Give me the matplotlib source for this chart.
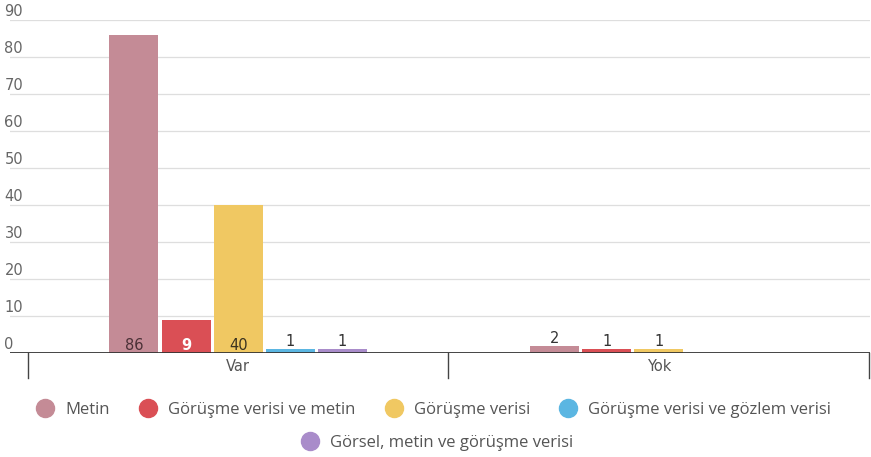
import numpy as np
import matplotlib
matplotlib.use("Agg")
import matplotlib.pyplot as plt
from matplotlib.lines import Line2D

# veriler
kategoriler = ["Var", "Yok"]
seriler = ["Metin", "Görüşme verisi ve metin", "Görüşme verisi",
           "Görüşme verisi ve gözlem verisi", "Görsel, metin ve görüşme verisi"]
metin = [86, 2]
gorusme_metin = [9, 1]
gorusme = [40, 1]
gorusme_gozlem = [1, 0]
gorsel_metin_gorusme = [1, 0]
degerler = [metin, gorusme_metin, gorusme, gorusme_gozlem, gorsel_metin_gorusme]
yticks = [0, 10, 20, 30, 40, 50, 60, 70, 80, 90]

renkler = ["#c48b96", "#da4f55", "#f0c862", "#5bb6e2", "#a98cca"]
etiket_renk = ["#4a3036", "#ffffff", "#3a3220", "#333333", "#333333"]

W, H = 871, 457
fig = plt.figure(figsize=(W / 100, H / 100), dpi=100)
plt.rcParams['font.family'] = ['Roboto', 'DejaVu Sans']
sayi_font = ["DejaVu Sans"]

# eksen: x 10..870 px, y 20..353 px
ax = fig.add_axes([10 / W, 1 - 353 / H, 860 / W, 333 / H])
cat_px = 421.0
ax.set_xlim(-0.5 - 18 / cat_px, 1.5 + 1 / cat_px)
ax.set_ylim(0, 90)
for s in ax.spines.values():
    s.set_visible(False)
ax.set_xticks([])
ax.set_yticks([])

for v in yticks[1:]:
    ax.axhline(v, color="#dedede", lw=0.9, zorder=0)
for v in yticks:
    ax.annotate(str(v), xy=(0, v), xycoords=ax.get_yaxis_transform(),
                xytext=(-4, 3), textcoords="offset points", ha="left", va="baseline",
                fontsize=10.5, color="#666666", family=sayi_font)

x = np.arange(len(kategoriler))
aralik = 52.2 / cat_px
genislik = 49 / cat_px
for i, (ad, vals) in enumerate(zip(seriler, degerler)):
    pos = x + (i - 2) * aralik
    for p, v in zip(pos, vals):
        if v == 0:
            continue
        ax.bar(p, v, width=genislik, color=renkler[i], zorder=2)
        if v > 5:
            ax.annotate(str(v), xy=(p, 0), xytext=(0, 2.2), textcoords="offset points",
                        ha="center", va="baseline", fontsize=10.5,
                        color=etiket_renk[i], fontweight="bold" if i == 1 else "normal",
                        family=sayi_font, zorder=3)
        else:
            ax.annotate(str(v), xy=(p, v), xytext=(0, 2.2), textcoords="offset points",
                        ha="center", va="baseline", fontsize=10.5, color="#333333",
                        family=sayi_font, zorder=3)

# taban cizgisi ve kategori kutulari
ax.axhline(0, color="#333333", lw=2, zorder=4)
for b in [-0.5, 0.5, 1.5]:
    ax.plot([b, b], [0, -6.8], color="#444444", lw=1, clip_on=False)
for xi, k in zip(x, kategoriler):
    ax.text(xi, -3.7, k, ha="center", va="center", fontsize=10.5, color="#555555",
            family=sayi_font)

# lejant
handles = [Line2D([], [], marker="o", ls="", ms=13, color=c) for c in renkler]
leg1 = fig.legend(handles[:4], seriler[:4], loc="center", ncol=4,
                  bbox_to_anchor=(433 / W, 1 - 410 / H), frameon=False,
                  labelcolor="#555555", handletextpad=0.6,
                  columnspacing=1.7, handlelength=1.2,
                  prop={"family": ["Open Sans", "DejaVu Sans"], "size": 12})
leg2 = fig.legend(handles[4:], seriler[4:], loc="center", ncol=1,
                  bbox_to_anchor=(437 / W, 1 - 443 / H), frameon=False,
                  labelcolor="#555555", handletextpad=0.6, handlelength=1.2,
                  prop={"family": ["Open Sans", "DejaVu Sans"], "size": 12})

fig.savefig("out.png", dpi=100)
